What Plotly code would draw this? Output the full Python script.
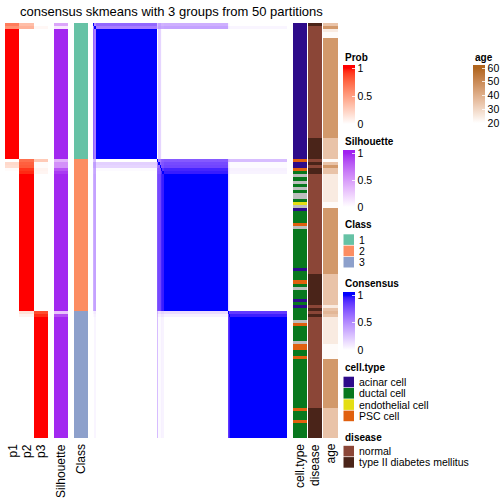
import numpy as np
import plotly.graph_objects as go

# ---------------- data ----------------
TITLE = "consensus skmeans with 3 groups from 50 partitions"

# run-length encoded per-sample values, rows top -> bottom
class_runs = [(1, 45), (2, 50), (3, 42)]
prob_runs = [
    ((0.66, 0.34, 0.00), 1),
    ((0.56, 0.40, 0.04), 1),
    ((1.00, 0.00, 0.00), 43),
    ((0.00, 0.72, 0.28), 1),
    ((0.20, 0.78, 0.02), 1),
    ((0.18, 0.80, 0.02), 1),
    ((0.02, 0.92, 0.06), 1),
    ((0.00, 0.95, 0.05), 1),
    ((0.00, 1.00, 0.00), 45),
    ((0.00, 0.15, 0.85), 1),
    ((0.00, 0.06, 0.94), 1),
    ((0.00, 0.00, 1.00), 40),
]
silhouette_runs = [(0.45, 1), (0.12, 1), (0.98, 43), (0.38, 1), (0.55, 2), (0.82, 1),
                   (0.92, 1), (0.98, 45), (0.30, 1), (0.85, 1), (0.98, 40)]
cell_type_runs = [
    ("acinar cell", 45), ("PSC cell", 1), ("acinar cell", 2), ("PSC cell", 1),
    ("ductal cell", 1), (None, 1), ("ductal cell", 1), (None, 1), ("ductal cell", 1),
    (None, 1), ("ductal cell", 1), (None, 2), ("ductal cell", 1), ("endothelial cell", 1),
    (None, 1), ("acinar cell", 1), ("ductal cell", 4), ("PSC cell", 1), (None, 1),
    ("ductal cell", 13), ("acinar cell", 1), ("ductal cell", 3), ("PSC cell", 1),
    ("ductal cell", 1), (None, 1), ("ductal cell", 3), ("acinar cell", 1),
    ("ductal cell", 1), ("acinar cell", 1), ("ductal cell", 4), (None, 1),
    ("PSC cell", 1), ("ductal cell", 5), (None, 1), ("PSC cell", 2),
    ("ductal cell", 2), ("PSC cell", 1), ("ductal cell", 16), ("PSC cell", 1),
    ("ductal cell", 3), ("PSC cell", 1), ("ductal cell", 5),
]
disease_runs = [
    ("type II diabetes mellitus", 1), ("normal", 37), ("type II diabetes mellitus", 7),
    ("normal", 1), ("type II diabetes mellitus", 1), ("normal", 1),
    ("type II diabetes mellitus", 2), ("normal", 33), ("type II diabetes mellitus", 10),
    ("normal", 1), ("type II diabetes mellitus", 1), ("normal", 1),
    ("type II diabetes mellitus", 1), ("normal", 30), ("type II diabetes mellitus", 10),
]
age_runs = [(35, 1), (46, 1), (25, 1), (21, 2), (46, 33), (35, 7), (21, 1), (35, 1),
            (46, 1), (35, 2), (25, 9), (21, 2), (46, 22), (35, 10), (25, 1), (35, 1),
            (38, 1), (35, 1), (25, 9), (21, 5), (46, 16), (35, 10)]

prob_labels = ["p1", "p2", "p3"]
class_levels = [1, 2, 3]
class_colors = ["#66C2A5", "#FC8D62", "#8DA0CB"]
cell_type_levels = ["acinar cell", "ductal cell", "endothelial cell", "PSC cell"]
cell_type_colors = ["#2E0B8A", "#08781E", "#E4DE14", "#E0600F"]
na_color = "#BEBEBE"
disease_levels = ["normal", "type II diabetes mellitus"]
disease_colors = ["#8B4637", "#4A2419"]
prob_ticks = [0, 0.5, 1]
age_ticks = [20, 30, 40, 50, 60]


def expand(runs):
    out = []
    for v, n in runs:
        out += [v] * n
    return out


cls = expand(class_runs)
P = np.array(expand(prob_runs), dtype=float)
sil = expand(silhouette_runs)
ctype = expand(cell_type_runs)
dis = expand(disease_runs)
age = expand(age_runs)
N = len(cls)

# consensus: co-membership of samples, self = 1
C = P @ P.T
np.fill_diagonal(C, 1.0)

# ---------------- colour helpers (LAB interpolation) ----------------
def hex_rgb(h):
    h = h.lstrip("#")
    return np.array([int(h[i:i + 2], 16) for i in (0, 2, 4)], float)


def rgb_lab(rgb):
    c = rgb / 255.0
    c = np.where(c <= 0.04045, c / 12.92, ((c + 0.055) / 1.055) ** 2.4)
    M = np.array([[0.4124, 0.3576, 0.1805], [0.2126, 0.7152, 0.0722], [0.0193, 0.1192, 0.9505]])
    xyz = M @ c / np.array([0.95047, 1.0, 1.08883])
    f = np.where(xyz > 0.008856, np.cbrt(xyz), 7.787 * xyz + 16 / 116)
    return np.array([116 * f[1] - 16, 500 * (f[0] - f[1]), 200 * (f[1] - f[2])])


def lab_hex(lab):
    L, a, b = lab
    fy = (L + 16) / 116
    fx = fy + a / 500
    fz = fy - b / 200
    f = np.array([fx, fy, fz])
    xyz = np.where(f ** 3 > 0.008856, f ** 3, (f - 16 / 116) / 7.787) * np.array([0.95047, 1.0, 1.08883])
    Mi = np.array([[3.2406, -1.5372, -0.4986], [-0.9689, 1.8758, 0.0415], [0.0557, -0.2040, 1.0570]])
    lin = np.clip(Mi @ xyz, 0, 1)
    s = np.where(lin <= 0.0031308, 12.92 * lin, 1.055 * lin ** (1 / 2.4) - 0.055)
    r, g, bb = (np.clip(s, 0, 1) * 255).round().astype(int)
    return "#%02X%02X%02X" % (r, g, bb)


def ramp(c0, c1, t):
    l0, l1 = rgb_lab(hex_rgb(c0)), rgb_lab(hex_rgb(c1))
    return lab_hex(l0 + (l1 - l0) * t)


def ext_scale(c0, c1, lo, hi, zmin, zmax, n=20):
    s_lo = (lo - zmin) / (zmax - zmin)
    s_hi = (hi - zmin) / (zmax - zmin)
    st = [[0.0, c0]]
    for i in range(n + 1):
        t = i / n
        st.append([s_lo + t * (s_hi - s_lo), ramp(c0, c1, t)])
    st.append([1.0, c1])
    return st


def ext_range(v_top, v_bot, top_px, bot_px, e=3):
    k = (v_top - v_bot) / (bot_px - top_px)
    return v_bot - e * k, v_top + e * k


def disc_scale(colors):
    n = len(colors)
    st = []
    for i, c in enumerate(colors):
        st += [[i / n, c], [(i + 1) / n, c]]
    return st


# ---------------- geometry ----------------
W = H = 504
FONT = "Liberation Sans, Arial, Helvetica, sans-serif"
TOP, BOT = 23, 438


def px(x):
    return x / W


def py(y):
    return 1 - y / H


cols = {
    "x": (5, 48), "x2": (54, 68), "x3": (74, 88), "x4": (93, 287),
    "x5": (293, 307), "x6": (308, 322), "x7": (323, 338),
}

fig = go.Figure()
rows = list(range(N))


def cbar(top_px, bot_px, tickvals, x=343):
    return dict(x=px(x), xanchor="left", xref="paper", y=py(top_px), yanchor="top",
                yref="paper", len=bot_px - top_px, lenmode="pixels", thickness=12,
                thicknessmode="pixels", outlinewidth=0, xpad=0, ypad=0,
                tickvals=tickvals, ticktext=[("%g" % v) for v in tickvals],
                ticks="inside", ticklen=3, tickcolor="rgba(255,255,255,0.8)",
                tickfont=dict(family=FONT, size=10.5, color="black"))


# prob
zmin, zmax = ext_range(1, 0, 68, 124)
fig.add_trace(go.Heatmap(z=P.tolist(), x=[0, 1, 2], y=rows, xaxis="x", yaxis="y",
                         zmin=zmin, zmax=zmax,
                         colorscale=ext_scale("#FFFFFF", "#FF0000", 0, 1, zmin, zmax),
                         colorbar=cbar(65, 127, prob_ticks), hoverinfo="skip"))
# silhouette
zmin, zmax = ext_range(1, 0, 153, 207)
fig.add_trace(go.Heatmap(z=[[v] for v in sil], x=[0], y=rows, xaxis="x2", yaxis="y",
                         zmin=zmin, zmax=zmax,
                         colorscale=ext_scale("#FFFFFF", "#A020F0", 0, 1, zmin, zmax),
                         colorbar=cbar(150, 210, prob_ticks), hoverinfo="skip"))
# class
fig.add_trace(go.Heatmap(z=[[class_levels.index(c)] for c in cls], x=[0], y=rows,
                         xaxis="x3", yaxis="y", zmin=-0.5, zmax=len(class_levels) - 0.5,
                         colorscale=disc_scale(class_colors), showscale=False, hoverinfo="skip"))
# consensus
zmin, zmax = ext_range(1, 0, 295, 350)
fig.add_trace(go.Heatmap(z=C, x=rows, y=rows, xaxis="x4", yaxis="y",
                         zmin=zmin, zmax=zmax,
                         colorscale=ext_scale("#FFFFFF", "#0000FF", 0, 1, zmin, zmax),
                         colorbar=cbar(292, 353, prob_ticks), hoverinfo="skip"))
# cell type
ct_codes = [[cell_type_levels.index(c) if c is not None else len(cell_type_levels)] for c in ctype]
fig.add_trace(go.Heatmap(z=ct_codes, x=[0], y=rows, xaxis="x5", yaxis="y",
                         zmin=-0.5, zmax=len(cell_type_levels) + 0.5,
                         colorscale=disc_scale(cell_type_colors + [na_color]),
                         showscale=False, hoverinfo="skip"))
# disease
fig.add_trace(go.Heatmap(z=[[disease_levels.index(d)] for d in dis], x=[0], y=rows,
                         xaxis="x6", yaxis="y", zmin=-0.5, zmax=len(disease_levels) - 0.5,
                         colorscale=disc_scale(disease_colors), showscale=False, hoverinfo="skip"))
# age
zmin, zmax = ext_range(60, 20, 68, 123)
fig.add_trace(go.Heatmap(z=[[a] for a in age], x=[0], y=rows, xaxis="x7", yaxis="y",
                         zmin=zmin, zmax=zmax,
                         colorscale=ext_scale("#FFFFFF", "#B0651E", 20, 60, zmin, zmax),
                         colorbar=cbar(65, 126, age_ticks, x=473), hoverinfo="skip"))

layout = dict(width=W, height=H, margin=dict(l=0, r=0, t=0, b=0, autoexpand=False),
              paper_bgcolor="white", plot_bgcolor="white", showlegend=False)
for key, (a, b) in cols.items():
    name = "xaxis" if key == "x" else "xaxis" + key[1:]
    layout[name] = dict(domain=[px(a), px(b)], anchor="y", visible=False,
                        range=[-0.5, (N if key == "x4" else (3 if key == "x" else 1)) - 0.5],
                        fixedrange=True)
layout["yaxis"] = dict(domain=[py(BOT), py(TOP)], range=[N - 0.5, -0.5], visible=False,
                       fixedrange=True)
fig.update_layout(**layout)

ann = []
shapes = []
ann.append(dict(text=TITLE, x=px(171.5), y=py(11), xref="paper", yref="paper",
                showarrow=False, xanchor="center", yanchor="middle",
                font=dict(family=FONT, size=13, color="black")))

# bottom column labels
bottom = [(prob_labels[0], 12.5), (prob_labels[1], 27), (prob_labels[2], 41),
          ("Silhouette", 61), ("Class", 81), ("cell.type", 300), ("disease", 315), ("age", 330.5)]
for t, x in bottom:
    ann.append(dict(text=t, x=px(x), y=py(442), xref="paper", yref="paper", showarrow=False,
                    textangle=-90, xanchor="center", yanchor="top",
                    font=dict(family=FONT, size=12, color="black")))

# legend titles
for t, x, y in [("Prob", 343, 57), ("age", 473, 57), ("Silhouette", 343, 141),
                ("Class", 343, 225), ("Consensus", 343, 283), ("cell.type", 343, 367),
                ("disease", 343, 437)]:
    ann.append(dict(text="<b>%s</b>" % t, x=px(x), y=py(y), xref="paper", yref="paper",
                    showarrow=False, xanchor="left", yanchor="middle",
                    font=dict(family=FONT, size=10, color="black")))


def cat_legend(labels, colors, top):
    step = 11.3
    for i, (lab, col) in enumerate(zip(labels, colors)):
        y0 = top + i * step
        shapes.append(dict(type="rect", xref="paper", yref="paper", x0=px(343.5), x1=px(354),
                           y0=py(y0 + 10.6), y1=py(y0), fillcolor=col,
                           line=dict(width=0)))
        ann.append(dict(text=str(lab), x=px(356.5), y=py(y0 + 5.3), xref="paper", yref="paper",
                        showarrow=False, xanchor="left", yanchor="middle",
                        font=dict(family=FONT, size=10.5, color="black")))


cat_legend(class_levels, class_colors, 234.3)
cat_legend(cell_type_levels, cell_type_colors, 376.7)
cat_legend(disease_levels, disease_colors, 445.8)

fig.update_layout(annotations=ann, shapes=shapes)
fig.write_html("out.html", config={"displayModeBar": False, "staticPlot": True},
               post_script="document.body.style.margin='0px';document.body.style.padding='0px';")
